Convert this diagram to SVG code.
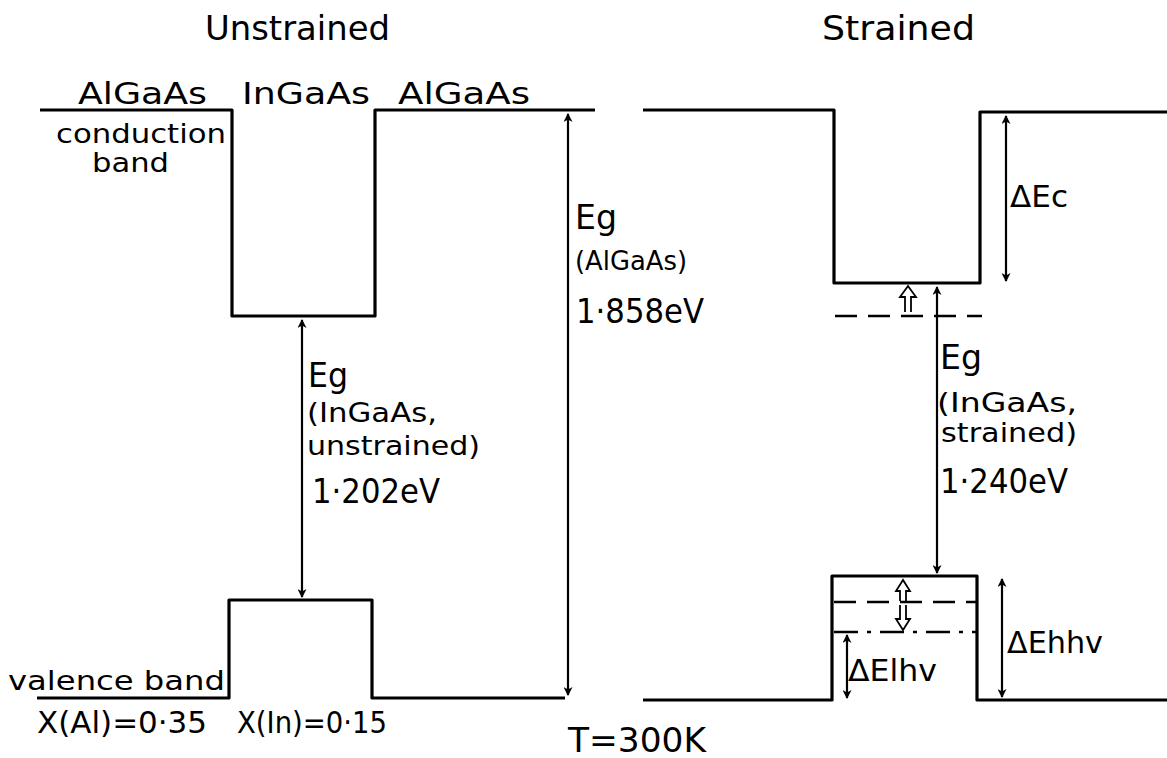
<svg xmlns="http://www.w3.org/2000/svg" width="1167" height="758" viewBox="0 0 1167 758">
<defs>
<marker id="ah" viewBox="0 0 10 10" refX="9" refY="5" markerWidth="14" markerHeight="9" markerUnits="userSpaceOnUse" orient="auto-start-reverse">
<path d="M0,0 L10,5 L0,10 L3,5 Z" fill="#000"/>
</marker>
<style>
.band{fill:none;stroke:#000;stroke-width:3.2;stroke-linejoin:round}
.arr{fill:none;stroke:#000;stroke-width:2.2;marker-start:url(#ah);marker-end:url(#ah)}
.hol{fill:none;stroke:#000;stroke-width:1.8;stroke-linejoin:miter}
.dash{fill:none;stroke:#000;stroke-width:2.6;stroke-dasharray:22 11}
.dashdot{fill:none;stroke:#000;stroke-width:2.6;stroke-dasharray:24 9 4 9}
text{font-family:"DejaVu Sans","Liberation Sans",sans-serif;fill:#000}
.t0{font-size:34px}
.t1{font-size:33px}
.t2{font-size:30px}
.t3{font-size:27px}
.t4{font-size:26px}
</style>
</defs>
<rect width="1167" height="758" fill="#fff"/>
<g id="titles">
<text class="t0" x="205" y="40" textLength="185" lengthAdjust="spacingAndGlyphs">Unstrained</text>
<text class="t0" x="822" y="40" textLength="153" lengthAdjust="spacingAndGlyphs">Strained</text>
<text class="t1" x="568" y="752" textLength="138" lengthAdjust="spacingAndGlyphs">T=300K</text>
</g>
<g id="unstrained-conduction">
<path class="band" d="M40,110 H232 V316 H375 V110 H595"/>
<text class="t2" x="78" y="104" textLength="129" lengthAdjust="spacingAndGlyphs">AlGaAs</text>
<text class="t2" x="242" y="104" textLength="128" lengthAdjust="spacingAndGlyphs">InGaAs</text>
<text class="t2" x="398" y="104" textLength="132" lengthAdjust="spacingAndGlyphs">AlGaAs</text>
<text class="t4" x="56" y="143" textLength="170" lengthAdjust="spacingAndGlyphs">conduction</text>
<text class="t4" x="92" y="172" textLength="77" lengthAdjust="spacingAndGlyphs">band</text>
</g>
<g id="unstrained-valence">
<path class="band" d="M37,698 H229 V600 H372 V698 H565"/>
<text class="t4" x="8" y="690" textLength="217" lengthAdjust="spacingAndGlyphs">valence band</text>
<text class="t2" x="37" y="733" textLength="170" lengthAdjust="spacingAndGlyphs">X(Al)=0·35</text>
<text class="t2" x="237" y="733" textLength="150" lengthAdjust="spacingAndGlyphs">X(In)=0·15</text>
</g>
<g id="label-eg-algaas">
<text class="t1" x="575" y="229" textLength="42" lengthAdjust="spacingAndGlyphs">Eg</text>
<text class="t3" x="575" y="270" textLength="112" lengthAdjust="spacingAndGlyphs">(AlGaAs)</text>
<text class="t1" x="576" y="323" textLength="128" lengthAdjust="spacingAndGlyphs">1·858eV</text>
</g>
<g id="label-eg-unstrained">
<text class="t1" x="308" y="387" textLength="40" lengthAdjust="spacingAndGlyphs">Eg</text>
<text class="t3" x="307" y="422" textLength="130" lengthAdjust="spacingAndGlyphs">(InGaAs,</text>
<text class="t3" x="307" y="455" textLength="173" lengthAdjust="spacingAndGlyphs">unstrained)</text>
<text class="t1" x="312" y="503" textLength="128" lengthAdjust="spacingAndGlyphs">1·202eV</text>
</g>
<g id="strained-conduction">
<path class="band" d="M643,110 H834 V283 H980 V112 H1167"/>
<path class="dash" d="M835,316 H982"/>
</g>
<g id="strained-valence">
<path class="band" d="M643,700 H832 V576 H977 V700 H1167"/>
<path class="dash" d="M834,602 H977"/>
<path class="dashdot" d="M834,632 H977"/>
</g>
<g id="label-eg-strained">
<text class="t1" x="940" y="369" textLength="42" lengthAdjust="spacingAndGlyphs">Eg</text>
<text class="t3" x="937" y="412" textLength="140" lengthAdjust="spacingAndGlyphs">(InGaAs,</text>
<text class="t3" x="941" y="442" textLength="136" lengthAdjust="spacingAndGlyphs">strained)</text>
<text class="t1" x="940" y="493" textLength="128" lengthAdjust="spacingAndGlyphs">1·240eV</text>
</g>
<g id="label-dec">
<text class="t2" x="1010" y="207" textLength="58" lengthAdjust="spacingAndGlyphs">ΔEc</text>
</g>
<g id="label-dehhv">
<text class="t2" x="1007" y="653" textLength="96" lengthAdjust="spacingAndGlyphs">ΔEhhv</text>
</g>
<g id="label-delhv">
<text class="t2" x="848" y="681" textLength="89" lengthAdjust="spacingAndGlyphs">ΔElhv</text>
</g>
<g id="connectors">
<path class="arr" d="M568,114 V695"/>
<path class="arr" d="M302,320 V597"/>
<path class="arr" d="M937,287 V573"/>
<path class="arr" d="M1006,116 V281"/>
<path class="arr" d="M1002,579 V697"/>
<path class="arr" d="M847,635 V698"/>
<path class="hol" d="M905,312 V297 H900 L908,286 L916,297 H911 V312"/>
<path class="hol" d="M900,601 V591 H896 L903,580 L910,591 H906 V601"/>
<path class="hol" d="M900,605 V619 H896 L903,630 L910,619 H906 V605"/>
</g>
</svg>
